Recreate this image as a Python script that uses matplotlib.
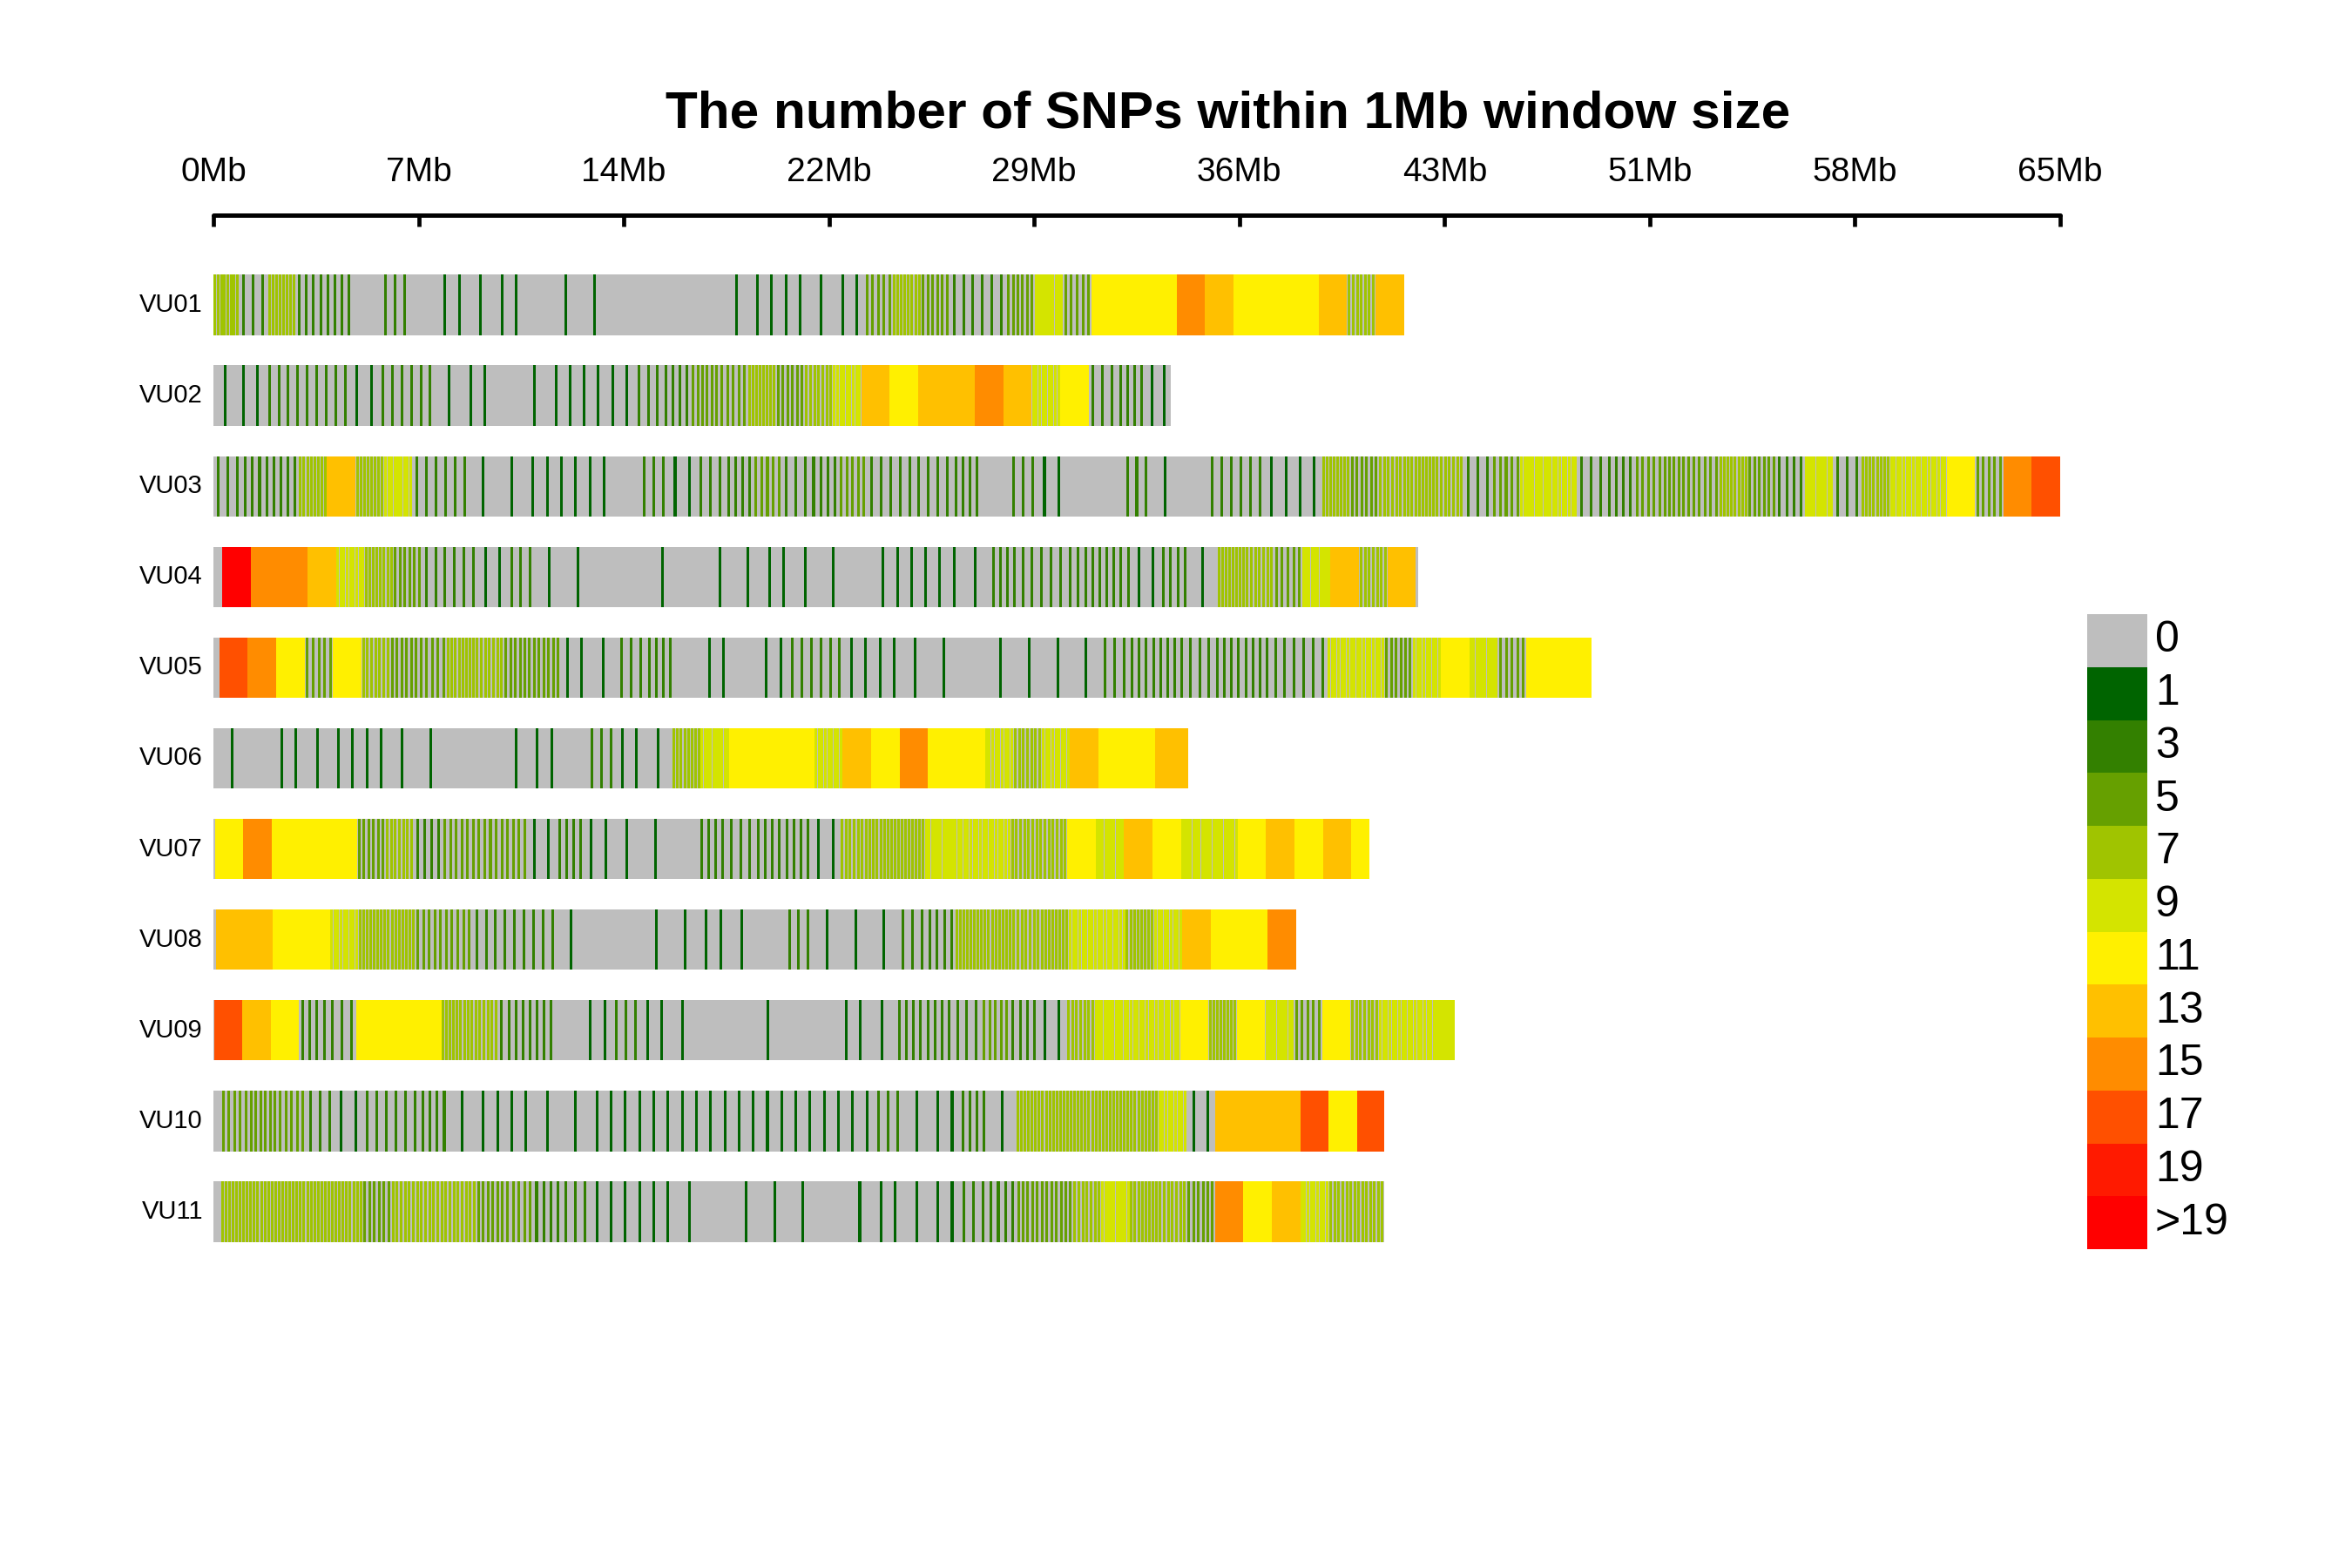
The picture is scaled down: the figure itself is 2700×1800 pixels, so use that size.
import numpy as np
import matplotlib
matplotlib.use("Agg")
import matplotlib.pyplot as plt
from matplotlib.patches import Rectangle

plt.rcParams['font.family'] = ['Liberation Sans', 'DejaVu Sans']

# ---------------- data ----------------
chrom_names = ['VU01', 'VU02', 'VU03', 'VU04', 'VU05', 'VU06',
               'VU07', 'VU08', 'VU09', 'VU10', 'VU11']
chrom_lengths_mb = [41.9, 33.7, 65.0, 42.4, 48.5, 34.3, 40.7, 38.1, 43.7, 41.2, 41.2]
# start of the first 1Mb window on each chromosome (Mb)
window_offsets_mb = [-0.1, -0.2, 0.0, 0.32, 0.21, 0.15, 0.05, 0.1, 0.02, 0.25, 0.25]

# SNP counts per 1Mb window
vu01 = [8, 3, 8, 4, 4, 0, 3, 0, 2, 1, 2, 0, 1, 1, 0, 0, 0, 0, 1, 2,
        2, 1, 2, 5, 8, 6, 3, 3, 6, 10, 5, 11, 11, 12, 15, 13, 11, 11, 11, 13,
        7, 13]
vu02 = [1, 2, 3, 3, 3, 2, 3, 3, 1, 2, 0, 1, 2, 2, 2, 3, 4, 6, 5, 8,
        6, 7, 9, 13, 12, 13, 13, 15, 13, 9, 11, 3, 4, 2]
vu03 = [3, 4, 4, 8, 13, 8, 9, 3, 3, 1, 1, 2, 2, 2, 0, 3, 2, 3, 4, 5,
        3, 4, 5, 3, 3, 3, 4, 0, 3, 2, 0, 0, 3, 1, 0, 3, 3, 2, 2, 8,
        6, 7, 8, 7, 3, 5, 10, 9, 3, 4, 5, 6, 5, 8, 6, 4, 10, 3, 8, 9,
        9, 11, 5, 15, 17]
vu04 = [22, 16, 15, 13, 9, 8, 6, 3, 3, 2, 3, 1, 1, 0, 0, 1, 0, 1, 1, 2,
        1, 1, 0, 2, 2, 2, 1, 4, 3, 3, 4, 4, 2, 4, 1, 8, 7, 5, 10, 13,
        7, 14]
vu05 = [17, 16, 11, 5, 11, 7, 6, 5, 8, 7, 6, 6, 2, 1, 3, 4, 0, 2, 0, 2,
        3, 3, 2, 2, 1, 1, 0, 1, 1, 1, 1, 3, 4, 4, 3, 4, 4, 3, 3, 9,
        9, 6, 9, 11, 10, 5, 11, 11, 11]
vu06 = [1, 0, 2, 1, 2, 2, 1, 1, 0, 0, 1, 2, 0, 3, 2, 1, 8, 10, 12, 12,
        11, 9, 14, 11, 15, 11, 11, 9, 7, 9, 13, 11, 11, 13, 13]
vu07 = [11, 16, 11, 11, 11, 6, 7, 4, 5, 5, 5, 2, 4, 2, 1, 1, 0, 4, 3, 4,
        4, 2, 7, 8, 8, 10, 9, 9, 7, 7, 11, 10, 13, 11, 10, 10, 11, 14, 11, 13,
        11]
vu08 = [13, 14, 11, 12, 9, 8, 8, 5, 5, 3, 3, 3, 1, 0, 0, 1, 1, 2, 1, 0,
        3, 1, 1, 1, 3, 4, 8, 8, 7, 8, 9, 9, 8, 9, 13, 11, 11, 16]
vu09 = [18, 13, 11, 4, 3, 12, 12, 11, 8, 7, 4, 4, 0, 2, 3, 2, 1, 0, 0, 1,
        0, 0, 2, 1, 4, 4, 3, 5, 4, 2, 7, 10, 9, 9, 11, 8, 11, 10, 5, 11,
        7, 9, 9, 9]
vu10 = [5, 6, 5, 3, 2, 3, 3, 4, 1, 2, 2, 1, 1, 2, 2, 2, 2, 2, 2, 2,
        2, 2, 2, 3, 1, 2, 4, 1, 8, 8, 8, 8, 8, 9, 2, 13, 13, 13, 18, 11,
        18]
vu11 = [8, 8, 8, 8, 8, 6, 7, 7, 7, 6, 5, 4, 3, 2, 2, 2, 1, 0, 1, 1,
        1, 0, 1, 2, 1, 2, 3, 4, 6, 6, 7, 10, 8, 7, 6, 15, 11, 13, 9, 7,
        7]
window_counts = [vu01, vu02, vu03, vu04, vu05, vu06, vu07, vu08, vu09, vu10, vu11]

legend_labels = ['0', '1', '3', '5', '7', '9', '11', '13', '15', '17', '19', '>19']
level_colors = ['#BEBEBE', '#006400', '#338000', '#66A000', '#A0C400', '#D4E400',
                '#FFF000', '#FFC000', '#FF8C00', '#FF5000', '#FF1A00', '#FF0000']

axis_max_mb = 65.0
tick_values = np.linspace(0, axis_max_mb, 10)
tick_labels = [f"{int(round(v))}Mb" for v in tick_values]
title = "The number of SNPs within 1Mb window size"


def level_of(count):
    if count <= 0:
        return 0
    return min(11, (count + 1) // 2)


# ---------------- figure ----------------
W, H = 2700, 1800
fig = plt.figure(figsize=(27, 18), dpi=100)

x_left, x_right = 245, 2365
y_top, y_bot = 247, 1450
pitch = 104.1
first_center = 350
ax = fig.add_axes([x_left / W, 1 - y_bot / H, (x_right - x_left) / W, (y_bot - y_top) / H])
ax.set_xlim(0, axis_max_mb)
ax.set_ylim((y_bot - first_center) / pitch, (y_top - first_center) / pitch)

bar_h = 0.665
snp_w = 0.092  # Mb, ~3 px

for i, (name, L, off, counts) in enumerate(zip(chrom_names, chrom_lengths_mb,
                                               window_offsets_mb, window_counts)):
    ax.broken_barh([(0, L)], (i - bar_h / 2, bar_h), facecolors=level_colors[0], linewidth=0)
    xr, cols = [], []
    for k, c in enumerate(counts):
        s = max(0.0, off + k)
        e = min(off + k + 1, L)
        if e <= s or c == 0:
            continue
        col = level_colors[level_of(c)]
        step = (e - s) / c
        for j in range(c):
            xc = s + (j + 0.5) * step
            x0 = max(s, xc - snp_w / 2)
            x1 = min(e, xc + snp_w / 2)
            xr.append((x0, x1 - x0))
            cols.append(col)
    ax.broken_barh(xr, (i - bar_h / 2, bar_h), facecolors=cols, linewidth=0)
    ax.text(-0.37, i, name, ha='right', va='center', fontsize=21, clip_on=False)

for side in ['left', 'right', 'bottom']:
    ax.spines[side].set_visible(False)
ax.spines['top'].set_linewidth(3.6)
ax.spines['top'].set_capstyle('round')
ax.xaxis.tick_top()
ax.set_xticks(tick_values)
ax.set_xticklabels(tick_labels)
ax.tick_params(axis='x', direction='in', length=9.5, width=3.4, pad=22, labelsize=28)
ax.set_yticks([])

# title
fig.text(1410 / W, 1 - 131 / H, title, ha='center', va='center',
         fontsize=43.5, fontweight='bold')

# legend
lx0, lx1, ly0, ly1 = 2396, 2465, 705, 1434
lax = fig.add_axes([lx0 / W, 1 - ly1 / H, (lx1 - lx0) / W, (ly1 - ly0) / H])
lax.set_xlim(0, 1)
lax.set_ylim(len(legend_labels), 0)
lax.axis('off')
for k, (lab, col) in enumerate(zip(legend_labels, level_colors)):
    lax.add_patch(Rectangle((0, k), 1, 1, facecolor=col, edgecolor='none'))
    lax.text(1 + 9 / (lx1 - lx0), k + 0.5, lab, ha='left', va='center',
             fontsize=36, clip_on=False)

fig.savefig('out.png', dpi=100)
